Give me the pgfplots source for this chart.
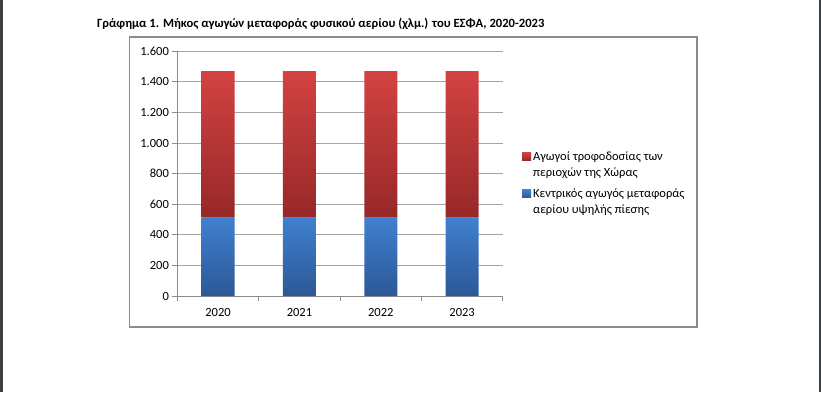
\documentclass[border=0pt]{standalone}
\usepackage{fontspec}
\setmainfont{Carlito}
\usepackage{pgfplots}
\pgfplotsset{compat=1.18}
\definecolor{redtop}{RGB}{212,66,66}
\definecolor{redbot}{RGB}{150,40,40}
\definecolor{redleg}{RGB}{192,56,56}
\definecolor{bluetop}{RGB}{64,128,208}
\definecolor{bluebot}{RGB}{44,88,150}
\definecolor{blueleg}{RGB}{56,114,190}
\definecolor{gridc}{RGB}{165,165,165}
\definecolor{framec}{RGB}{140,140,140}
\definecolor{edgec}{RGB}{60,64,67}
\begin{document}
\begin{tikzpicture}[x=1pt,y=1pt]
\fill[white] (0,0) rectangle (821,392);
\fill[edgec] (0,0) rectangle (2.5,392);
\fill[edgec] (818.5,0) rectangle (821,392);
\draw[framec, line width=1.3pt] (129.5,65) rectangle (697,355);
\node[anchor=base west, inner sep=0, font=\fontsize{12.6}{14}\selectfont\bfseries] at (97,364.7) {Γράφημα 1. Μήκος αγωγών μεταφοράς φυσικού αερίου (χλμ.) του ΕΣΦΑ, 2020-2023};
\begin{axis}[at={(177.4pt,96pt)}, anchor=south west, scale only axis,
  width=325.4pt, height=244.7pt,
  ybar stacked, bar width=0.405,
  xmin=-0.5, xmax=3.5, ymin=0, ymax=1600,
  xtick={0,1,2,3}, xticklabels={2020,2021,2022,2023},
  minor xtick={-0.5,0.5,1.5,2.5,3.5},
  major x tick style={draw=none},
  minor x tick style={framec, line width=0.9pt},
  ytick={0,200,...,1600},
  y tick style={framec, line width=0.9pt},
  tick align=outside, major tick length=5pt, minor tick length=5pt,
  axis x line*=bottom, axis y line*=left,
  axis line style={framec, line width=0.9pt},
  ymajorgrids, grid style={gridc, line width=0.9pt},
  tick label style={font=\fontsize{12.5}{14}\selectfont, text=black},
  xticklabel style={yshift=-4pt},
  /pgf/number format/assume math mode=true,
  /pgf/number format/1000 sep={.},
  scaled y ticks=false,
  legend style={at={(1.059,0.60)}, anchor=north west, draw=none, fill=none,
    font=\fontsize{12.5}{16}\selectfont, inner sep=0pt,
    cells={anchor=west, align=left}, row sep=7pt},
  reverse legend,
]
\addplot[draw=none, top color=bluetop, bottom color=bluebot,
  legend image code/.code={\fill[blueleg] (0pt,4pt) rectangle (9pt,12pt);}]
  coordinates {(0,512) (1,512) (2,512) (3,512)};
\addlegendentry{Κεντρικός αγωγός μεταφοράς\\αερίου υψηλής πίεσης}
\addplot[draw=none, top color=redtop, bottom color=redbot,
  legend image code/.code={\fill[redleg] (0pt,4pt) rectangle (9pt,12pt);}]
  coordinates {(0,959) (1,959) (2,959) (3,959)};
\addlegendentry{Αγωγοί τροφοδοσίας των\\περιοχών της Χώρας}
\end{axis}
\end{tikzpicture}
\end{document}
